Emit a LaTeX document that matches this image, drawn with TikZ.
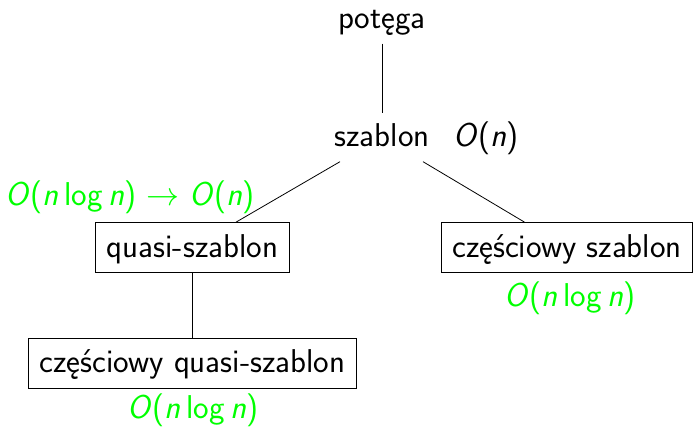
\RequirePackage{fix-cm}
\documentclass[tikz,border=0pt]{standalone}
\usepackage{fontspec}
\newcommand{\bigO}[1]{\textit{O}(#1)}
\newcommand{\nlogn}{\textit{n}\,log\,\textit{n}}
\begin{document}
\begin{tikzpicture}[x=1pt,y=-1pt,
  every node/.style={font=\sffamily\fontsize{33}{40}\selectfont, text height=26pt, text depth=6.5pt, inner sep=8pt},
  lbl/.style={anchor=base},
  cplx/.style={anchor=base, text=green},
  boxed/.style={draw, line width=0.8pt, inner xsep=11pt, inner ysep=8.75pt},
  edge/.style={line width=0.8pt}]
\useasboundingbox (0,0) rectangle (694,427);
\node[lbl] (pot) at (382,29) {potęga};
\node[lbl] (sza) at (382,147) {szablon};
\node[lbl] (oszb) at (486,147) {\bigO{\textit{n}}};
\node[boxed] (qs) at (192.5,247.5) {quasi-szablon};
\node[boxed] (cs) at (567,247.5) {częściowy szablon};
\node[boxed] (cqs) at (192.5,363) {częściowy quasi-szablon};
\node[cplx] (oqs) at (130,206) {\bigO{\nlogn}\hspace{0.3em}$\rightarrow$\hspace{0.3em}\bigO{\textit{n}}};
\node[cplx] (ocs) at (570,307) {\bigO{\nlogn}};
\node[cplx] (ocqs) at (193,419) {\bigO{\nlogn}};
\draw[edge] (pot) -- (sza);
\draw[edge] (sza) -- (qs);
\draw[edge] (sza) -- (cs);
\draw[edge] (qs) -- (cqs);
\end{tikzpicture}
\end{document}
